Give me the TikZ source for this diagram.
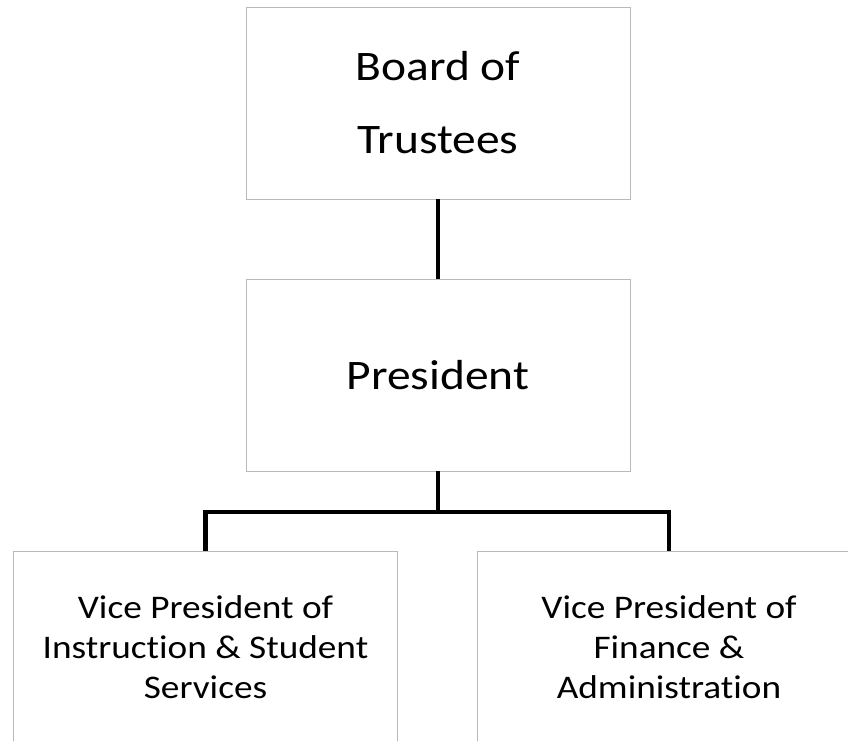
\documentclass[tikz,border=0pt]{standalone}
\usepackage{fontspec}
\setmainfont[Ligatures=NoCommon,FakeStretch=1.13]{Carlito}
\begin{document}
\begin{tikzpicture}[x=1pt,y=-1pt,
  orgbox/.style={draw=gray!55, line width=0.8pt, fill=white, minimum width=384pt, minimum height=192pt, inner sep=0pt, align=center},
  bigtext/.style={font=\fontsize{42}{73}\selectfont},
  smalltext/.style={font=\fontsize{33}{40}\selectfont},
  link/.style={line width=4.5pt, black, line join=miter}]
\clip (0,0) rectangle (848,740);
\fill[white] (0,0) rectangle (848,740);
\node[orgbox, bigtext] (board) at (438,103) {Board of\\Trustees};
\node[orgbox, bigtext] (pres) at (438,375) {President};
\node[orgbox, smalltext] (vpi) at (205.5,647) {Vice President of\\Instruction \& Student\\Services};
\node[orgbox, smalltext] (vpf) at (669,647) {Vice President of\\Finance \&\\Administration};
\coordinate (j) at (438,512);
\draw[link] (board.south) -- (pres.north);
\draw[link] (pres.south) -- (j);
\draw[link] (j) -| (vpi.north);
\draw[link] (j) -| (vpf.north);
\end{tikzpicture}
\end{document}
